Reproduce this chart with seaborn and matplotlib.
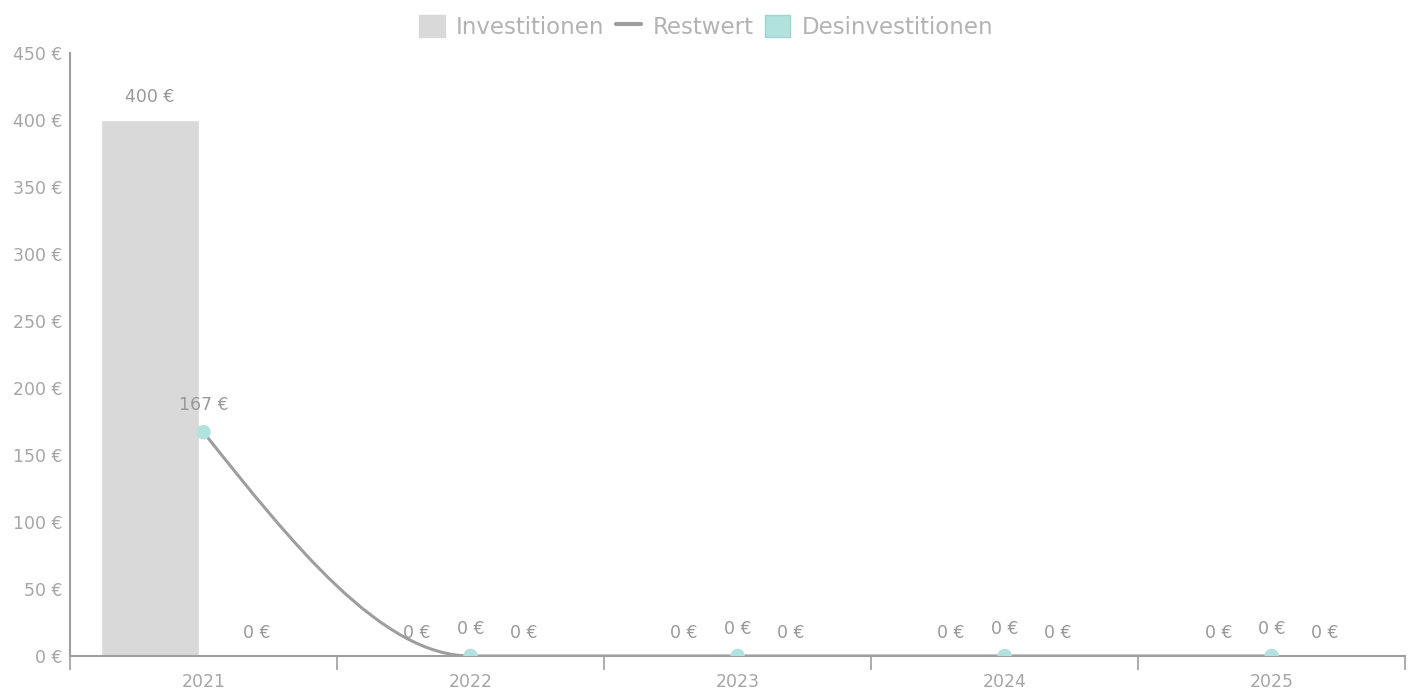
import pandas as pd
import numpy as np
import matplotlib
matplotlib.use("Agg")
import matplotlib.pyplot as plt
from matplotlib.path import Path
from matplotlib.patches import PathPatch, Patch
from matplotlib.lines import Line2D
import seaborn as sns

# data
years = ["2021", "2022", "2023", "2024", "2025"]
investitionen = [400, 0, 0, 0, 0]
desinvestitionen = [0, 0, 0, 0, 0]
restwert = [167, 0, 0, 0, 0]

GREY = "#d9d9d9"
TEAL = "#b2e2dd"
LINE = "#9e9e9e"
TXT = "#a6a6a6"
LBL = "#999999"
FS = 12.5

sns.set_style("white")
plt.rcParams['font.family'] = ['DejaVu Sans']

df = pd.DataFrame({
    "Jahr": years * 2,
    "Wert": investitionen + desinvestitionen,
    "Art": ["Investitionen"] * len(years) + ["Desinvestitionen"] * len(years),
})

fig = plt.figure(figsize=(14.13, 6.93), dpi=100)
ax = fig.add_axes([0.0495, 0.0534, 0.945, 0.8701])

sns.barplot(data=df, x="Jahr", y="Wert", hue="Art", palette=[GREY, TEAL],
            width=0.8, gap=0.09, saturation=1, legend=False, ax=ax)

for cont in ax.containers:
    ax.bar_label(cont, labels=[f"{v:.0f} €" for v in cont.datavalues],
                 padding=10, color=LBL, fontsize=FS)

# smooth line (monotone curve through the Restwert points)
xs = np.arange(len(restwert), dtype=float)
ys = np.array(restwert, dtype=float)
d = np.diff(ys) / np.diff(xs)
m = np.zeros_like(ys)
for i in range(1, len(ys) - 1):
    if d[i - 1] * d[i] > 0:
        m[i] = 2 / (1 / d[i - 1] + 1 / d[i])
m[0] = (3 * d[0] - m[1]) / 2
m[-1] = (3 * d[-1] - m[-2]) / 2
verts = [(xs[0], ys[0])]
codes = [Path.MOVETO]
for i in range(len(xs) - 1):
    h = xs[i + 1] - xs[i]
    verts += [(xs[i] + h / 3, ys[i] + m[i] * h / 3),
              (xs[i + 1] - h / 3, ys[i + 1] - m[i + 1] * h / 3),
              (xs[i + 1], ys[i + 1])]
    codes += [Path.CURVE4] * 3
ax.add_patch(PathPatch(Path(verts, codes), fill=False, edgecolor=LINE, lw=2.2, zorder=4))
sns.scatterplot(x=xs, y=ys, color=TEAL, s=110, edgecolor="none", zorder=5, ax=ax)
for x, y in zip(xs, ys):
    ax.annotate(f"{y:.0f} €", (x, y), xytext=(0, 13), textcoords="offset points",
                ha="center", va="bottom", color=LBL, fontsize=FS)

ax.set_xlim(-0.5, len(years) - 0.5)
ax.set_ylim(0, 450)
ax.set_yticks(range(0, 451, 50))
ax.set_yticklabels([f"{v} €" for v in range(0, 451, 50)])
ax.set_xlabel("")
ax.set_ylabel("")

ax.set_xticks(np.arange(-0.5, len(years), 1.0), minor=False)
ax.set_xticklabels([])
ax.set_xticks(np.arange(len(years)), minor=True)
ax.set_xticklabels(years, minor=True)
ax.tick_params(axis="x", which="major", bottom=True, length=10, width=1.2,
               color=LINE, direction="out")
ax.tick_params(axis="x", which="minor", bottom=True, length=0, pad=12,
               labelcolor=TXT, labelsize=FS)
ax.tick_params(axis="y", left=False, pad=2, labelcolor=TXT, labelsize=FS)

sns.despine(ax=ax, top=True, right=True)
for s in ["left", "bottom"]:
    ax.spines[s].set_color(LINE)
    ax.spines[s].set_linewidth(1.5)

handles = [Patch(facecolor=GREY, edgecolor=GREY),
           Line2D([0], [0], color=LINE, lw=3),
           Patch(facecolor=TEAL, edgecolor="#9fd3ce")]
fig.legend(handles, ["Investitionen", "Restwert", "Desinvestitionen"],
           loc="upper center", bbox_to_anchor=(0.5, 1.008), ncol=3, frameon=False,
           fontsize=16.5, labelcolor="#b3b3b3", handlelength=1.1, handleheight=1.1,
           handletextpad=0.5, columnspacing=0.5)

plt.savefig("out.png", dpi=100)
